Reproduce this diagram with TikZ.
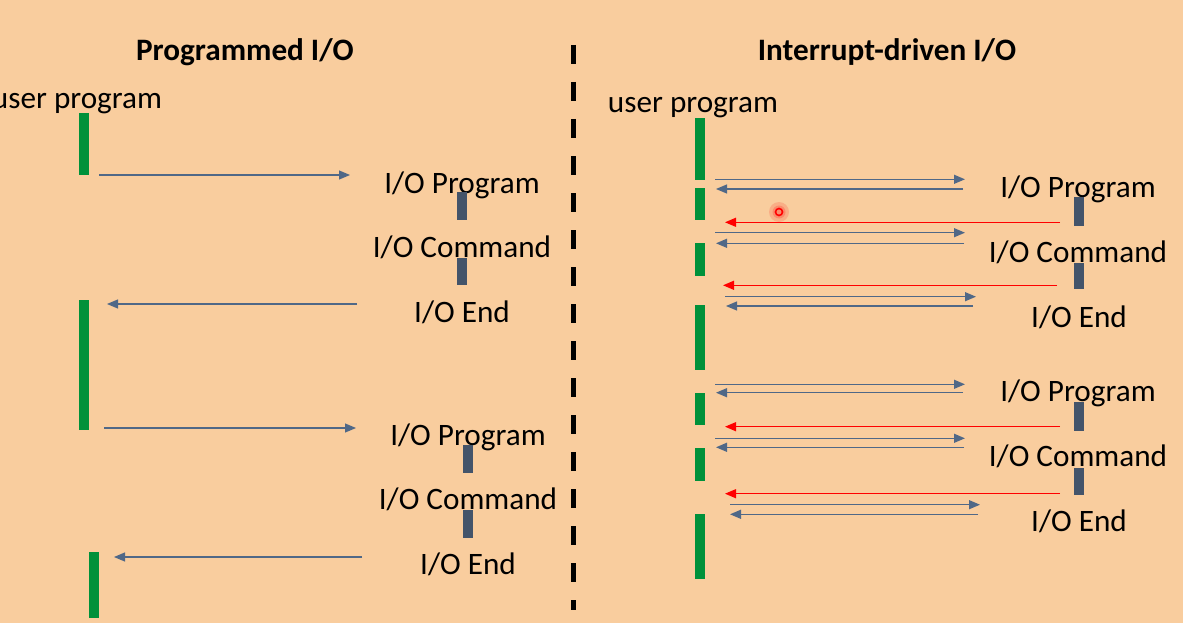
\documentclass[tikz,border=0pt]{standalone}
\usepackage{fontspec}
\setmainfont{Carlito}
\usetikzlibrary{arrows.meta}
\definecolor{bg}{RGB}{249,205,158}
\definecolor{gbar}{RGB}{0,145,58}
\definecolor{bbar}{RGB}{68,84,106}
\definecolor{arr}{RGB}{80,104,135}
\begin{document}
\begin{tikzpicture}[x=1pt,y=-1pt,
  gbarst/.style={fill=gbar,draw=none,inner sep=0,minimum width=10pt},
  bbarst/.style={fill=bbar,draw=none,inner sep=0,minimum width=10pt},
  lbl/.style={font=\fontsize{31.2}{36}\selectfont,anchor=base,inner sep=0},
  ttl/.style={font=\fontsize{31.2}{36}\selectfont\bfseries,anchor=base,inner sep=0},
  con/.style={draw=arr,line width=1.2pt,-{Triangle[length=11pt,width=9pt]}},
  irq/.style={draw=red,line width=1.2pt,-{Triangle[length=11pt,width=9pt]}}]
\fill[bg] (0,0) rectangle (1183,623);
\useasboundingbox (0,0) rectangle (1183,623);
% titles
\node[ttl] (t1) at (245,61) {Programmed I/O};
\node[ttl] (t2) at (887,61) {Interrupt-driven I/O};
\coordinate (ds) at (573,45);
\coordinate (de) at (573,610);
\draw[line width=5pt,dash pattern=on 19pt off 18pt] (ds) -- (de);
% left side
\node[lbl] (up1) at (77,109) {user program};
\node[gbarst,minimum height=62pt] (lg1) at (84,144) {};
\node[gbarst,minimum height=130pt] (lg2) at (84,365) {};
\node[gbarst,minimum height=66pt] (lg3) at (94,585) {};
\node[lbl] (lp1) at (462,193) {I/O Program};
\node[lbl] (lc1) at (462,257) {I/O Command};
\node[lbl] (le1) at (462,322) {I/O End};
\node[lbl] (lp2) at (468,445) {I/O Program};
\node[lbl] (lc2) at (468,509) {I/O Command};
\node[lbl] (le2) at (468,574) {I/O End};
\node[bbarst,minimum height=28pt] (lb1) at (462,206) {};
\node[bbarst,minimum height=27pt] (lb2) at (462,271.5) {};
\node[bbarst,minimum height=28pt] (lb3) at (468,459) {};
\node[bbarst,minimum height=28pt] (lb4) at (468,524) {};
\coordinate (la1s) at (99,175);  \coordinate (la1e) at (350,175);
\coordinate (la2s) at (357,304); \coordinate (la2e) at (107,304);
\coordinate (la3s) at (104,428); \coordinate (la3e) at (356,428);
\coordinate (la4s) at (362,557); \coordinate (la4e) at (114,557);
\draw[con] (la1s) -- (la1e);
\draw[con] (la2s) -- (la2e);
\draw[con] (la3s) -- (la3e);
\draw[con] (la4s) -- (la4e);
% right side
\node[lbl] (up2) at (693,113) {user program};
\node[gbarst,minimum height=62pt] (rg1) at (700,149) {};
\node[gbarst,minimum height=32pt] (rg2) at (700,204) {};
\node[gbarst,minimum height=33pt] (rg3) at (700,259.5) {};
\node[gbarst,minimum height=65pt] (rg4) at (700,337.5) {};
\node[gbarst,minimum height=32pt] (rg5) at (700,409) {};
\node[gbarst,minimum height=33pt] (rg6) at (700,464.5) {};
\node[gbarst,minimum height=65pt] (rg7) at (700,546.5) {};
\node[lbl] (rp1) at (1078,197) {I/O Program};
\node[lbl] (rc1) at (1078,262) {I/O Command};
\node[lbl] (re1) at (1079,327) {I/O End};
\node[lbl] (rp2) at (1078,401) {I/O Program};
\node[lbl] (rc2) at (1078,466) {I/O Command};
\node[lbl] (re2) at (1079,531) {I/O End};
\node[bbarst,minimum height=29pt] (rb1) at (1078.5,211.5) {};
\node[bbarst,minimum height=26pt] (rb2) at (1078.5,276) {};
\node[bbarst,minimum height=29pt] (rb3) at (1078.5,416.5) {};
\node[bbarst,minimum height=27pt] (rb4) at (1078.5,481.5) {};
% first block
\coordinate (a1s) at (715,179.3); \coordinate (a1e) at (965,179.3);
\coordinate (a2s) at (963,189);   \coordinate (a2e) at (716,189);
\coordinate (a3s) at (1060,222.3);\coordinate (a3e) at (725,222.3);
\coordinate (a4s) at (715,232.7); \coordinate (a4e) at (965,232.7);
\coordinate (a5s) at (964,243.3); \coordinate (a5e) at (716,243.3);
\coordinate (a6s) at (1057,285.3);\coordinate (a6e) at (723,285.3);
\coordinate (a7s) at (725,296.7); \coordinate (a7e) at (976,296.7);
\coordinate (a8s) at (973,306);   \coordinate (a8e) at (726,306);
% second block
\coordinate (b1s) at (715,384.3); \coordinate (b1e) at (965,384.3);
\coordinate (b2s) at (963,392.7); \coordinate (b2e) at (716,392.7);
\coordinate (b3s) at (1060,426.7);\coordinate (b3e) at (725,426.7);
\coordinate (b4s) at (715,438.3); \coordinate (b4e) at (965,438.3);
\coordinate (b5s) at (964,447.3); \coordinate (b5e) at (716,447.3);
\coordinate (b6s) at (1060,493.7);\coordinate (b6e) at (725,493.7);
\coordinate (b7s) at (730,504.7); \coordinate (b7e) at (980,504.7);
\coordinate (b8s) at (978,514.3); \coordinate (b8e) at (730,514.3);
\foreach \p in {a,b}{
  \draw[con] (\p1s) -- (\p1e);
  \draw[con] (\p2s) -- (\p2e);
  \draw[irq] (\p3s) -- (\p3e);
  \draw[con] (\p4s) -- (\p4e);
  \draw[con] (\p5s) -- (\p5e);
  \draw[irq] (\p6s) -- (\p6e);
  \draw[con] (\p7s) -- (\p7e);
  \draw[con] (\p8s) -- (\p8e);
}
% cursor mark
\fill[red,opacity=0.15] (779,212) circle (10pt);
\fill[red,opacity=0.2] (779,212) circle (6.5pt);
\node[circle,draw=red,line width=1.6pt,minimum size=7pt,inner sep=0] (cursor) at (779,212) {};
\end{tikzpicture}
\end{document}
